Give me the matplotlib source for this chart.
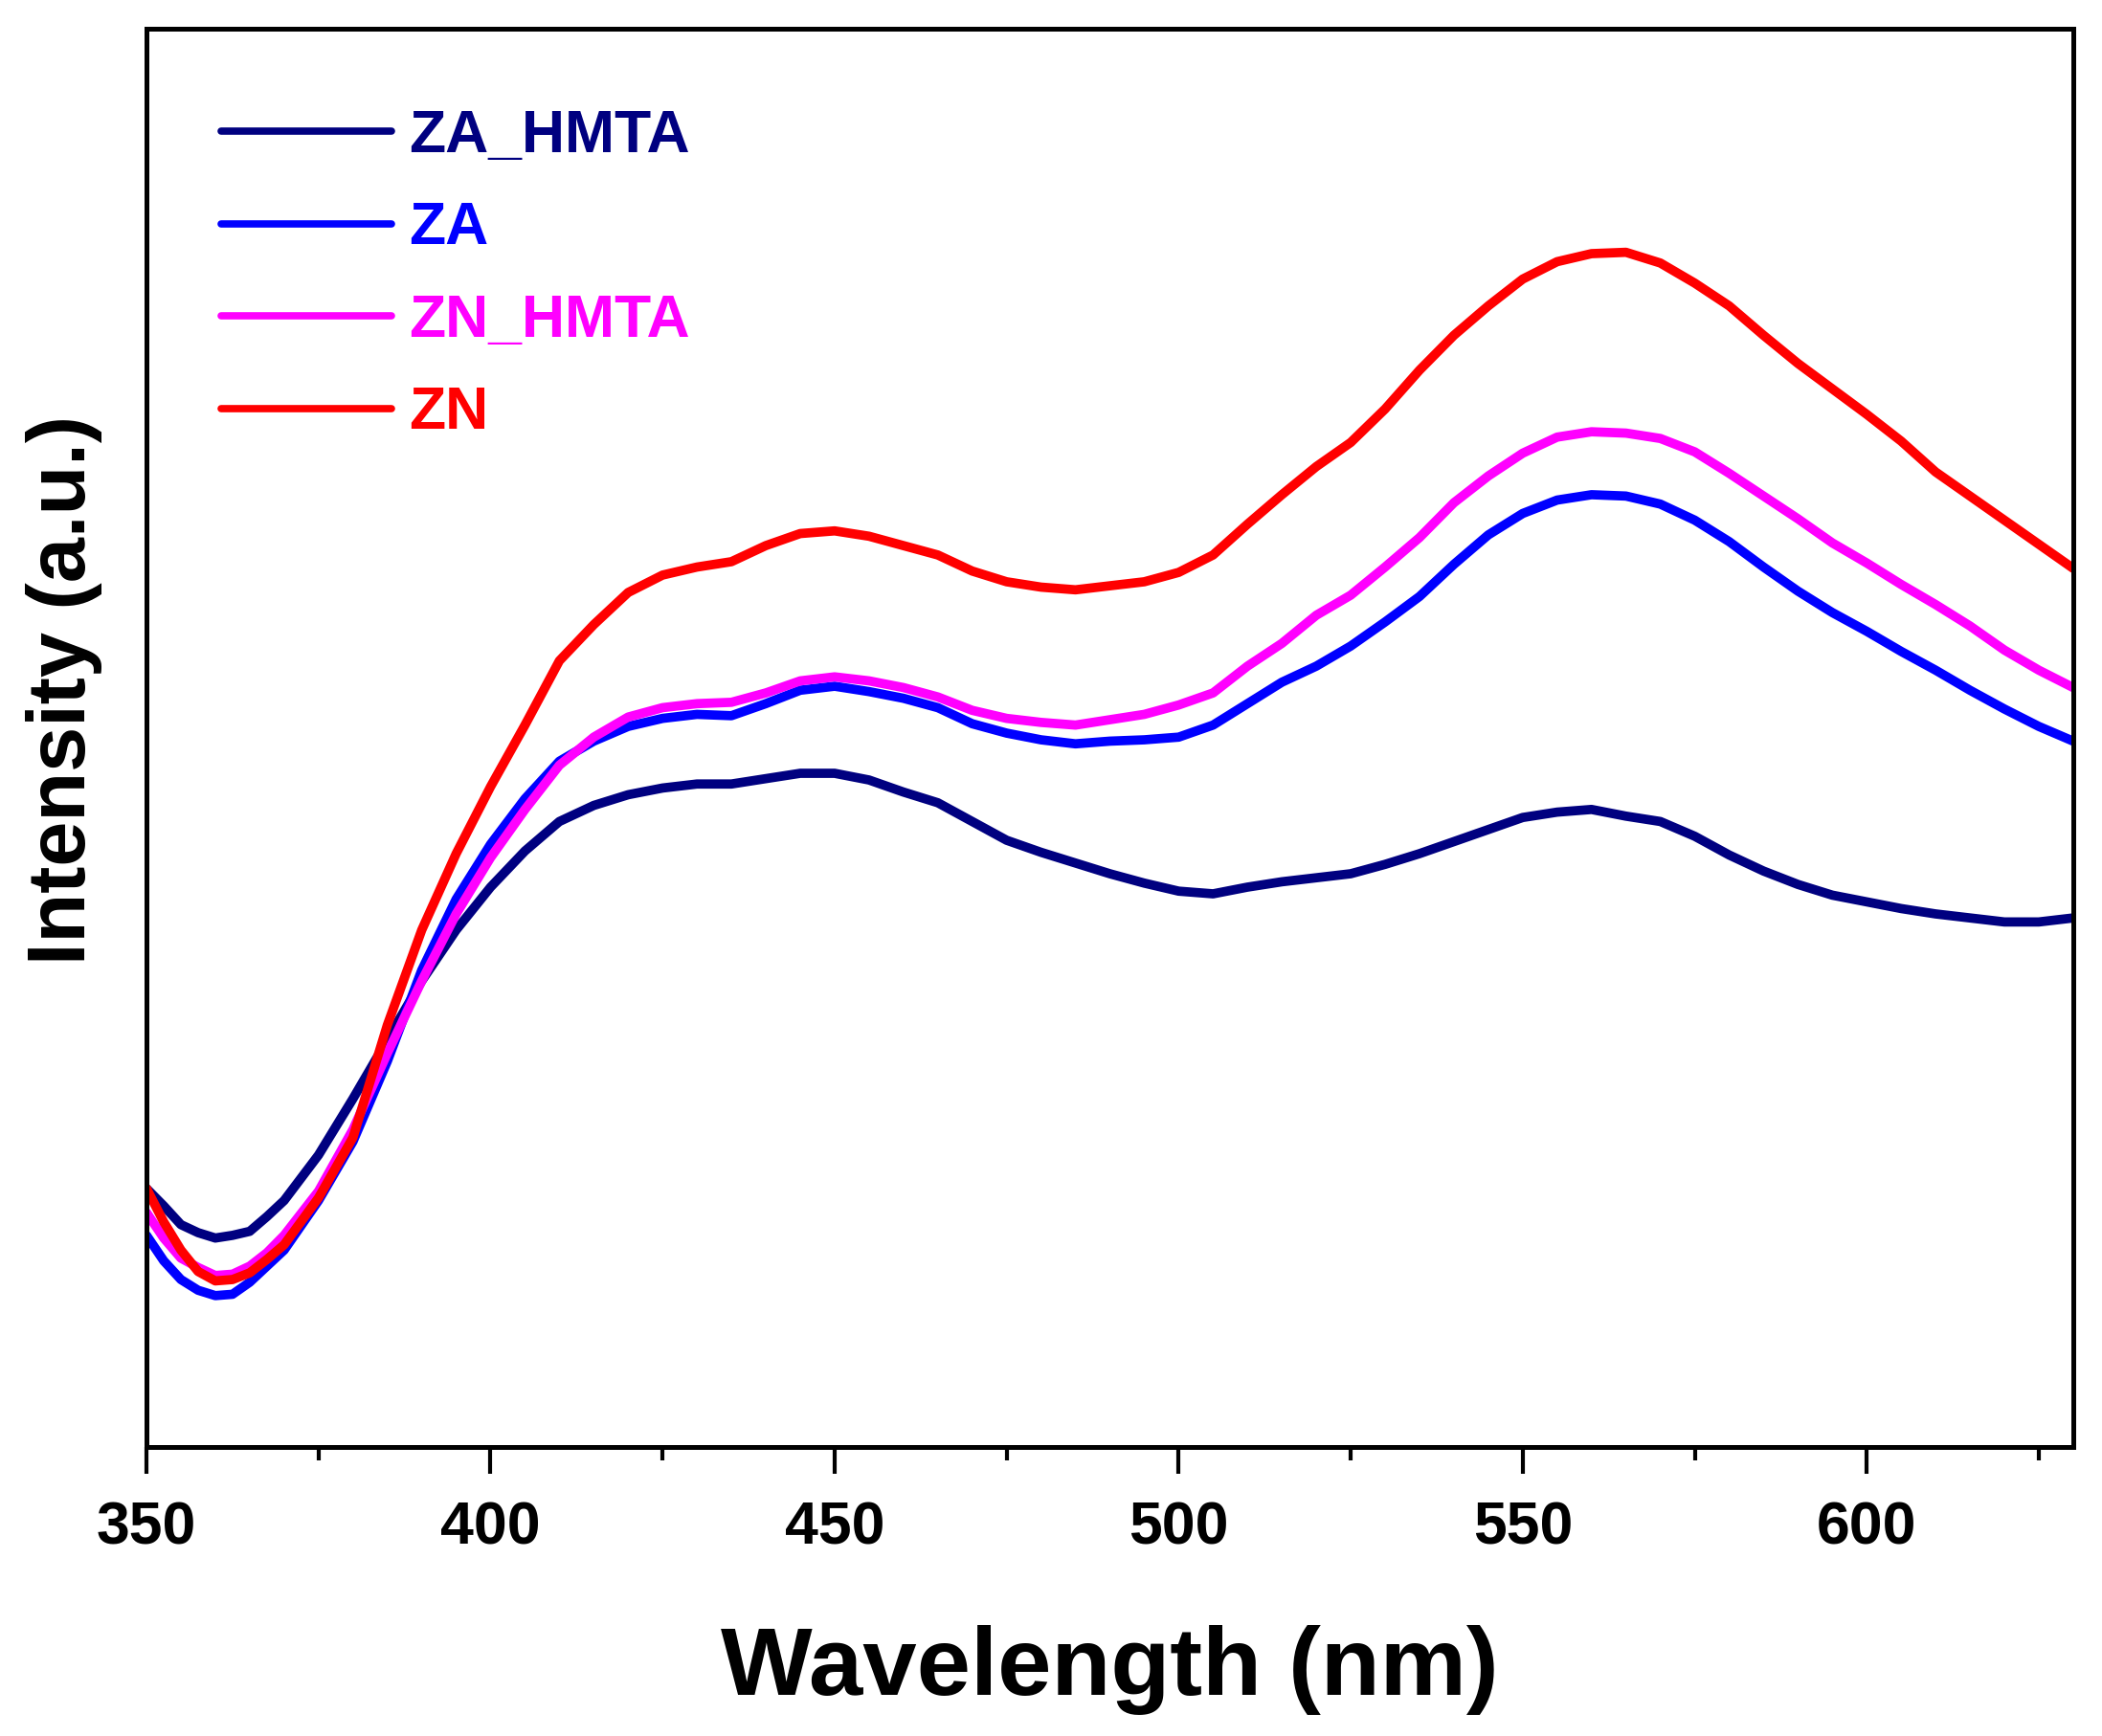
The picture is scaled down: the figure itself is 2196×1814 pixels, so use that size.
import matplotlib
matplotlib.use("Agg")
import matplotlib.pyplot as plt
import numpy as np

wavelength = [350, 352.5, 355, 357.5, 360, 362.5, 365, 367.5, 370] + list(range(375, 635, 5))

za_hmta_px = [887, 900, 914, 920, 924, 922, 919, 908, 896,
              862, 820, 776, 732, 694, 662, 635, 613, 601, 593,
              588, 585, 585, 581, 577, 577, 582, 591, 599, 613,
              627, 636, 644, 652, 659, 665, 667, 662, 658, 655,
              652, 645, 637, 628, 619, 610, 606, 604, 609, 613,
              624, 638, 650, 660, 668, 673, 678, 682, 685, 688,
              688, 685]
za_px = [922, 941, 955, 963, 967, 966, 957, 945, 933,
         896, 852, 792, 724, 671, 630, 596, 568, 553, 542,
         536, 533, 534, 525, 515, 512, 516, 521, 528, 540,
         547, 552, 555, 553, 552, 550, 541, 525, 509, 497,
         482, 464, 445, 421, 399, 383, 373, 369, 370, 376,
         388, 404, 423, 441, 457, 471, 486, 500, 515, 529,
         542, 553]
zn_hmta_px = [905, 924, 939, 946, 952, 951, 945, 935, 922,
              889, 843, 786, 732, 682, 640, 604, 571, 550, 535,
              528, 525, 524, 517, 508, 505, 508, 513, 520, 530,
              536, 539, 541, 537, 533, 526, 517, 497, 480, 459,
              444, 423, 401, 375, 355, 338, 326, 322, 323, 327,
              337, 353, 370, 387, 405, 420, 436, 451, 467, 485,
              500, 513]
zn_px = [887, 912, 933, 949, 956, 955, 950, 940, 929,
         894, 849, 765, 694, 637, 587, 541, 493, 466, 442,
         429, 423, 419, 407, 398, 396, 400, 407, 414, 426,
         434, 438, 440, 437, 434, 427, 414, 391, 369, 348,
         330, 305, 276, 250, 228, 208, 195, 189, 188, 196,
         211, 228, 250, 271, 290, 309, 329, 352, 370, 388,
         406, 424]

# intensity (arbitrary units) = height above the bottom of the frame
za_hmta = [1080 - v for v in za_hmta_px]
za = [1080 - v for v in za_px]
zn_hmta = [1080 - v for v in zn_hmta_px]
zn = [1080 - v for v in zn_px]

labels = ["ZA_HMTA", "ZA", "ZN_HMTA", "ZN"]
colors = ["#000080", "#0000FF", "#FF00FF", "#FF0000"]
series = [za_hmta, za, zn_hmta, zn]

plt.rcParams['font.family'] = ['Liberation Sans', 'DejaVu Sans']
plt.rcParams['font.weight'] = 'bold'

fig = plt.figure(figsize=(21.96, 18.14), dpi=100)
ax = fig.add_axes([0.0697, 0.1665, 0.9166, 0.817])

for y, c, lab in zip(series, colors, labels):
    ax.plot(wavelength, y, color=c, lw=7, label=lab, solid_capstyle='round',
            solid_joinstyle='round')

ax.set_xlim(350, 630)
ax.set_ylim(0, 1059)

ax.set_xticks([350, 400, 450, 500, 550, 600])
ax.set_xticks(np.arange(375, 630, 50), minor=True)
ax.tick_params(axis='x', which='major', direction='out', length=20, width=3, pad=20,
               labelsize=45)
ax.tick_params(axis='x', which='minor', direction='out', length=10, width=3)
ax.tick_params(axis='y', which='both', left=False, labelleft=False)
for lbl in ax.get_xticklabels():
    lbl.set_fontweight('bold')

for sp in ax.spines.values():
    sp.set_linewidth(3.6)

ax.set_xlabel("Wavelength (nm)", fontsize=73, fontweight='bold', va='baseline')
ax.xaxis.set_label_coords(0.5, -0.175)
ax.set_ylabel("Intensity (a.u.)", fontsize=61, fontweight='bold', va='center')
ax.yaxis.set_label_coords(-0.0427, 0.534)

leg = ax.legend(loc='upper left', bbox_to_anchor=(0.0387, 0.944), frameon=False,
                handlelength=2.85, handletextpad=0.29, labelspacing=0.6,
                borderpad=0, borderaxespad=0, labelcolor='linecolor',
                prop={'weight': 'bold', 'size': 45})
for line in leg.get_lines():
    line.set_linewidth(5.5)

fig.savefig("out.png", dpi=100)
